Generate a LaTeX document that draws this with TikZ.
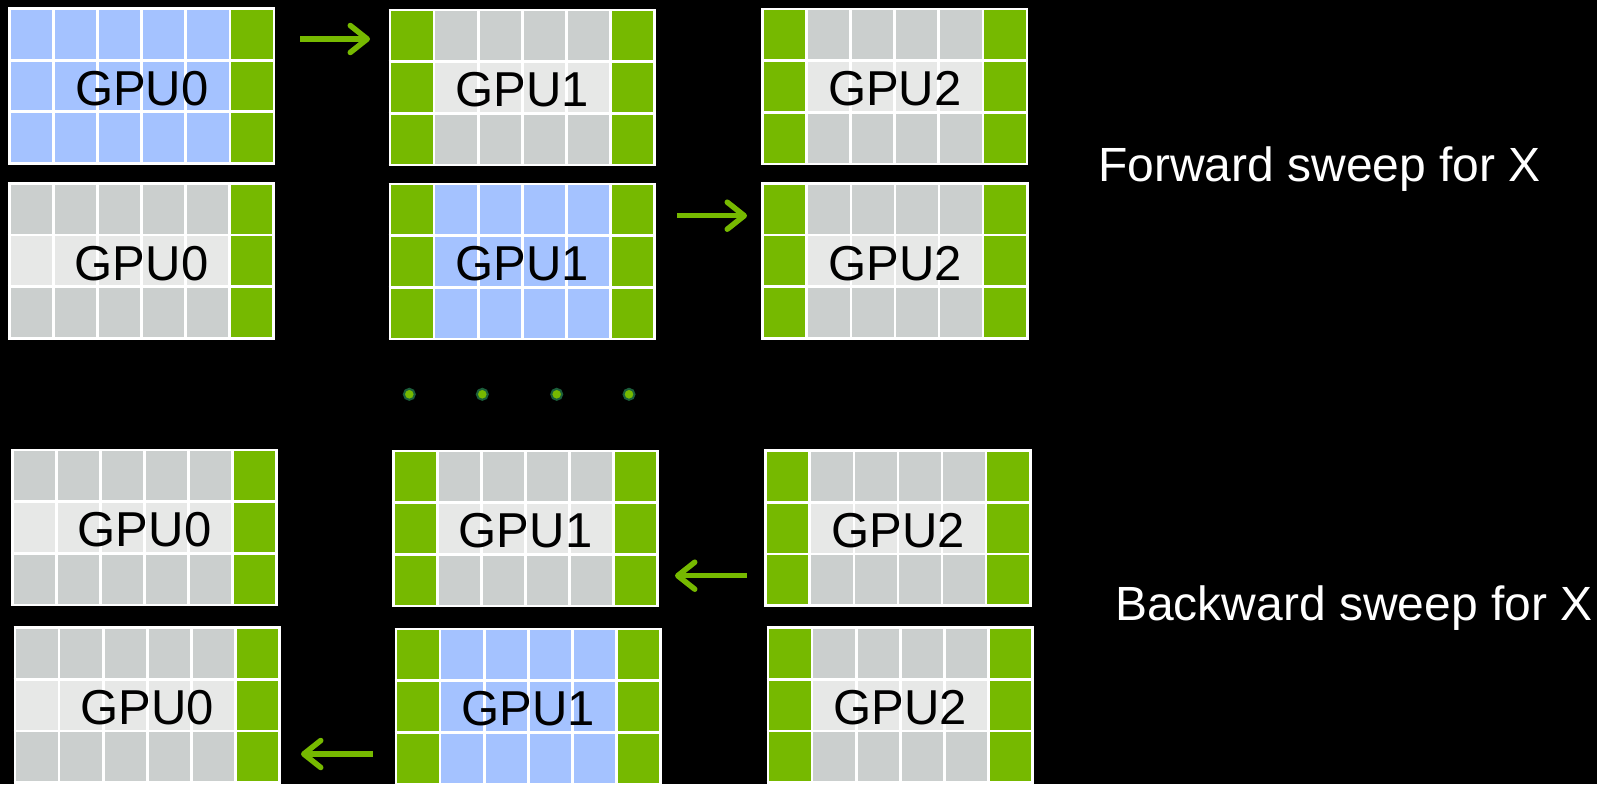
\documentclass[tikz,border=0pt]{standalone}
\usepackage{fontspec}
\setmainfont{Liberation Sans}
\usetikzlibrary{arrows.meta}
\definecolor{nvgreen}{HTML}{76B900}
\definecolor{cellblue}{HTML}{A4C2FF}
\definecolor{cellgray}{HTML}{CBCFCE}
\definecolor{celllight}{HTML}{E7E8E7}
\definecolor{dotring}{HTML}{1B5E3A}
\tikzset{
  gridline/.style={draw=white, line width=2.7pt},
  gpulabel/.style={inner sep=0pt, minimum width=264pt, minimum height=155pt, text=black, font=\fontsize{49}{49}\selectfont},
  sweeplabel/.style={inner sep=0pt, anchor=base west, text=white, font=\fontsize{48}{48}\selectfont},
  sweeparrow/.style={draw=nvgreen, line width=5.5pt, -{Straight Barb[length=17pt, width=27pt, round]}},
  gdot/.style={circle, fill=nvgreen, draw=dotring, line width=2pt, minimum size=11pt, inner sep=0pt},
}
% #1 name, #2 x, #3 y, #4 base colour, #5 middle-row colour, #6 left green column (1/0), #7 label
\newcommand\gpugrid[7]{%
  \begin{scope}[shift={(#2,#3)}]
    \fill[#4] (0,0) rectangle (264.5,155);
    \fill[#5] (0,51.67) rectangle (264.5,103.33);
    \fill[nvgreen] (220.4,0) rectangle (264.5,155);
    \ifnum#6=1 \fill[nvgreen] (0,0) rectangle (44.1,155);\fi
    \foreach \i in {0,...,6} \draw[gridline] (\i*44.083,0) -- (\i*44.083,155);
    \foreach \j in {0,...,3} \draw[gridline] (-1.35,\j*51.667) -- (265.85,\j*51.667);
    \node[gpulabel] (#1) at (132.25,80) {#7};
  \end{scope}}
\begin{document}
\begin{tikzpicture}[x=1pt, y=-1pt]
  \fill[black] (0,0) rectangle (1597,784);
  \useasboundingbox (0,0) rectangle (1597,784);
  % row 1
  \gpugrid{a0}{9.5}{8.5}{cellblue}{cellblue}{0}{GPU0}
  \gpugrid{a1}{390}{10}{cellgray}{celllight}{1}{GPU1}
  \gpugrid{a2}{762.5}{9}{cellgray}{celllight}{1}{GPU2}
  % row 2
  \gpugrid{b0}{9.3}{183.3}{cellgray}{celllight}{0}{GPU0}
  \gpugrid{b1}{390}{184}{cellblue}{cellblue}{1}{GPU1}
  \gpugrid{b2}{762.7}{183.3}{cellgray}{celllight}{1}{GPU2}
  % row 3
  \gpugrid{c0}{12.3}{450}{cellgray}{celllight}{0}{GPU0}
  \gpugrid{c1}{393.3}{451}{cellgray}{celllight}{1}{GPU1}
  \gpugrid{c2}{765.7}{450.7}{cellgray}{celllight}{1}{GPU2}
  % row 4
  \gpugrid{d0}{15}{627.7}{cellgray}{celllight}{0}{GPU0}
  \gpugrid{d1}{396}{629}{cellblue}{cellblue}{1}{GPU1}
  \gpugrid{d2}{768}{627.7}{cellgray}{celllight}{1}{GPU2}
  % arrows
  \coordinate (f1s) at (300,39);   \coordinate (f1e) at (370,39);
  \coordinate (f2s) at (677,215.7); \coordinate (f2e) at (747,215.7);
  \coordinate (b1s) at (746.7,575.7); \coordinate (b1e) at (675,575.7);
  \coordinate (b2s) at (372.7,754); \coordinate (b2e) at (301,754);
  \draw[sweeparrow] (f1s) -- (f1e);
  \draw[sweeparrow] (f2s) -- (f2e);
  \draw[sweeparrow] (b1s) -- (b1e);
  \draw[sweeparrow] (b2s) -- (b2e);
  % dots
  \node[gdot] (p1) at (409.3,394.3) {};
  \node[gdot] (p2) at (482.3,394.3) {};
  \node[gdot] (p3) at (556.7,394.3) {};
  \node[gdot] (p4) at (629,394.3) {};
  % labels
  \node[sweeplabel] (fw) at (1098,181.7) {Forward sweep for X};
  \node[sweeplabel] (bw) at (1115,620) {Backward sweep for X};
\end{tikzpicture}
\end{document}
